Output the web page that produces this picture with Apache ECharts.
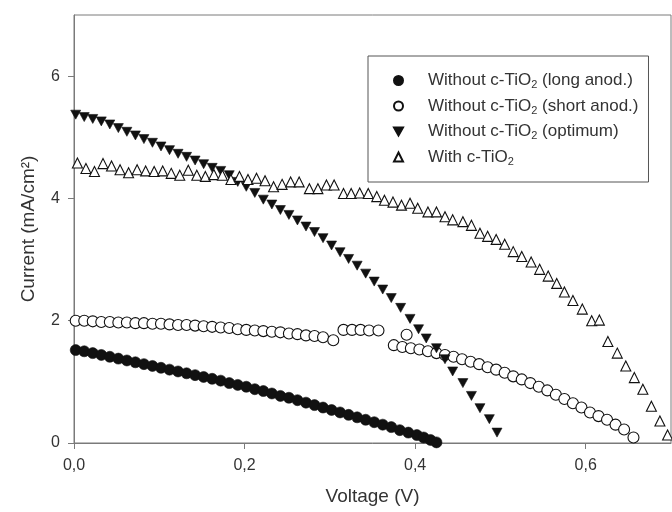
<!DOCTYPE html>
<html>
<head>
<meta charset="utf-8">
<script src="https://cdn.jsdelivr.net/npm/echarts@6/dist/echarts.min.js"></script>
<style>
  html, body { margin: 0; padding: 0; background: #fff; }
  #chart { width: 672px; height: 512px; }
</style>
</head>
<body>
<div id="chart"></div>
<script>
// J–V curves: [voltage (V), current density (mA/cm²)]
const seriesNames = [
  'Without c-TiO2 (long anod.)',
  'Without c-TiO2 (short anod.)',
  'Without c-TiO2 (optimum)',
  'With c-TiO2'
];

const longAnod = [
  [0.002,1.52],[0.012,1.50],[0.022,1.47],[0.032,1.44],[0.042,1.41],[0.052,1.38],
  [0.062,1.35],[0.072,1.32],[0.082,1.29],[0.092,1.26],[0.102,1.23],[0.112,1.20],
  [0.122,1.17],[0.132,1.14],[0.142,1.11],[0.152,1.08],[0.162,1.05],[0.172,1.02],
  [0.182,0.98],[0.192,0.95],[0.202,0.92],[0.212,0.88],[0.222,0.85],[0.232,0.81],
  [0.242,0.77],[0.252,0.74],[0.262,0.70],[0.272,0.66],[0.282,0.62],[0.292,0.58],
  [0.302,0.54],[0.312,0.50],[0.322,0.46],[0.332,0.42],[0.342,0.38],[0.352,0.34],
  [0.362,0.30],[0.372,0.26],[0.382,0.21],[0.392,0.17],[0.402,0.13],[0.410,0.09],
  [0.418,0.05],[0.425,0.01]
];

const shortAnod = [
  [0.002,2.00],[0.012,2.00],[0.022,1.99],[0.032,1.98],[0.042,1.98],[0.052,1.97],
  [0.062,1.97],[0.072,1.96],[0.082,1.96],[0.092,1.95],[0.102,1.95],[0.112,1.94],
  [0.122,1.93],[0.132,1.93],[0.142,1.92],[0.152,1.91],[0.162,1.90],[0.172,1.89],
  [0.182,1.88],[0.192,1.86],[0.202,1.85],[0.212,1.84],[0.222,1.83],[0.232,1.82],
  [0.242,1.81],[0.252,1.79],[0.262,1.78],[0.272,1.76],[0.282,1.75],[0.292,1.73],
  [0.304,1.68],
  [0.316,1.85],[0.326,1.85],[0.336,1.85],[0.346,1.84],[0.357,1.84],
  [0.390,1.77],
  [0.375,1.60],[0.385,1.57],[0.395,1.55],[0.405,1.53],[0.415,1.50],[0.425,1.47],
  [0.435,1.44],[0.445,1.41],[0.455,1.37],[0.465,1.33],[0.475,1.29],[0.485,1.24],
  [0.495,1.20],[0.505,1.15],[0.515,1.09],[0.525,1.04],[0.535,0.98],[0.545,0.92],
  [0.555,0.86],[0.565,0.79],[0.575,0.72],[0.585,0.65],[0.595,0.58],[0.605,0.50],
  [0.615,0.44],[0.625,0.38],[0.635,0.30],[0.645,0.22],[0.656,0.09]
];

const optimum = [
  [0.002,5.37],[0.012,5.33],[0.022,5.30],[0.032,5.26],[0.042,5.21],[0.052,5.15],
  [0.062,5.09],[0.072,5.03],[0.082,4.97],[0.092,4.91],[0.102,4.85],[0.112,4.79],
  [0.122,4.73],[0.132,4.68],[0.142,4.62],[0.152,4.56],[0.162,4.50],[0.172,4.45],
  [0.182,4.38],[0.192,4.27],[0.202,4.19],[0.212,4.09],[0.222,3.98],[0.232,3.90],
  [0.242,3.81],[0.252,3.73],[0.262,3.64],[0.272,3.54],[0.282,3.45],[0.292,3.35],
  [0.302,3.23],[0.312,3.12],[0.322,3.01],[0.332,2.90],[0.342,2.77],[0.352,2.64],
  [0.362,2.51],[0.372,2.37],[0.383,2.21],[0.394,2.03],[0.404,1.86],[0.413,1.71],
  [0.425,1.55],[0.435,1.37],[0.444,1.17],[0.456,0.98],[0.466,0.77],[0.476,0.57],
  [0.487,0.39],[0.496,0.17]
];

const withTiO2 = [
  [0.004,4.58],[0.014,4.49],[0.024,4.44],[0.034,4.57],[0.044,4.53],[0.054,4.47],
  [0.064,4.42],[0.074,4.47],[0.084,4.45],[0.094,4.44],[0.104,4.45],[0.114,4.41],
  [0.124,4.38],[0.134,4.46],[0.144,4.38],[0.154,4.36],[0.164,4.39],[0.174,4.38],
  [0.184,4.31],[0.194,4.36],[0.204,4.31],[0.214,4.33],[0.224,4.29],[0.234,4.19],
  [0.244,4.23],[0.254,4.27],[0.264,4.27],[0.276,4.16],[0.286,4.16],[0.296,4.22],
  [0.305,4.22],[0.316,4.08],[0.325,4.08],[0.335,4.09],[0.345,4.08],[0.355,4.03],
  [0.364,3.97],[0.374,3.94],[0.384,3.89],[0.394,3.92],[0.403,3.84],[0.415,3.78],
  [0.425,3.78],[0.435,3.70],[0.444,3.65],[0.456,3.62],[0.466,3.56],[0.476,3.43],
  [0.485,3.38],[0.495,3.33],[0.505,3.25],[0.515,3.13],[0.525,3.05],[0.536,2.96],
  [0.546,2.84],[0.556,2.73],[0.566,2.61],[0.575,2.47],[0.585,2.33],[0.596,2.19],
  [0.607,2.00],[0.616,2.01],[0.626,1.66],[0.637,1.47],[0.647,1.26],[0.657,1.07],
  [0.667,0.88],[0.677,0.60],[0.687,0.36],[0.696,0.13]
];

const xTicks = [0, 0.2, 0.4, 0.6];
const yTicks = [0, 2, 4, 6];

const FONT = '"Liberation Sans", Arial, Helvetica, sans-serif';
const INK = '#111';
const TEXT = '#333';
const AXIS = '#7a7a7a';

const chart = echarts.init(document.getElementById('chart'), null, { renderer: 'canvas' });

function scatter(name, data, symbol, size, filled) {
  return {
    type: 'scatter',
    name: name,
    data: data,
    symbol: symbol,
    symbolSize: size,
    symbolKeepAspect: true,
    itemStyle: filled
      ? { color: INK, borderColor: INK, borderWidth: 0.6, opacity: 1 }
      : { color: '#fff', borderColor: INK, borderWidth: 1.1, opacity: 1 },
    emphasis: { disabled: true }
  };
}

// Legend label with a subscript "2" in TiO2
function legendLabel(name) {
  const i = name.indexOf('TiO2');
  return '{a|' + name.slice(0, i + 3) + '}{s|2}{n|' + name.slice(i + 4) + '}';
}

chart.setOption({
  animation: false,
  backgroundColor: '#fff',
  textStyle: { fontFamily: FONT },
  grid: {
    left: 74, right: 1, top: 15, bottom: 69,
    show: true, borderColor: AXIS, borderWidth: 1, backgroundColor: 'transparent'
  },
  xAxis: {
    type: 'value',
    min: 0, max: 0.7, interval: 0.2,
    name: 'Voltage (V)',
    nameLocation: 'middle',
    nameGap: 44,
    nameTextStyle: { fontSize: 19, color: TEXT, fontFamily: FONT },
    axisLine: { show: true, onZero: false, lineStyle: { color: AXIS, width: 1 } },
    axisTick: { show: true, inside: false, length: 6, customValues: xTicks, lineStyle: { color: AXIS } },
    axisLabel: {
      margin: 15, fontSize: 16, color: TEXT, fontFamily: FONT,
      customValues: xTicks,
      formatter: v => v.toFixed(1).replace('.', ',')
    },
    splitLine: { show: false }
  },
  yAxis: {
    type: 'value',
    min: 0, max: 7, interval: 2,
    name: 'Current (mA/cm²)',
    nameLocation: 'middle',
    nameGap: 36,
    nameTextStyle: { fontSize: 19, color: TEXT, fontFamily: FONT },
    axisLine: { show: true, onZero: false, lineStyle: { color: AXIS, width: 1 } },
    axisTick: { show: true, inside: false, length: 6, customValues: yTicks, lineStyle: { color: AXIS } },
    axisLabel: {
      margin: 14, fontSize: 16, color: TEXT, fontFamily: FONT,
      customValues: yTicks
    },
    splitLine: { show: false }
  },
  legend: {
    orient: 'vertical',
    left: 368, top: 56,
    padding: [16, 10, 15, 25],
    itemGap: 7,
    itemWidth: 9, itemHeight: 9,
    borderColor: '#555', borderWidth: 1,
    backgroundColor: '#fff',
    selectedMode: false,
    data: seriesNames,
    formatter: legendLabel,
    textStyle: {
      fontFamily: FONT,
      rich: {
        a: { fontSize: 17, color: TEXT, lineHeight: 20, verticalAlign: 'middle', fontFamily: FONT, padding: [0, 0, 0, 20] },
        n: { fontSize: 17, color: TEXT, lineHeight: 20, verticalAlign: 'middle', fontFamily: FONT },
        s: { fontSize: 11, color: TEXT, lineHeight: 11, verticalAlign: 'bottom', fontFamily: FONT }
      }
    }
  },
  series: [
    scatter(seriesNames[0], longAnod, 'circle', 11, true),
    scatter(seriesNames[1], shortAnod, 'circle', 11, false),
    scatter(seriesNames[2], optimum, 'path://M0,0 L10,0 L5,9 Z', 10, true),
    scatter(seriesNames[3], withTiO2, 'triangle', 10, false)
  ]
});
</script>
</body>
</html>
